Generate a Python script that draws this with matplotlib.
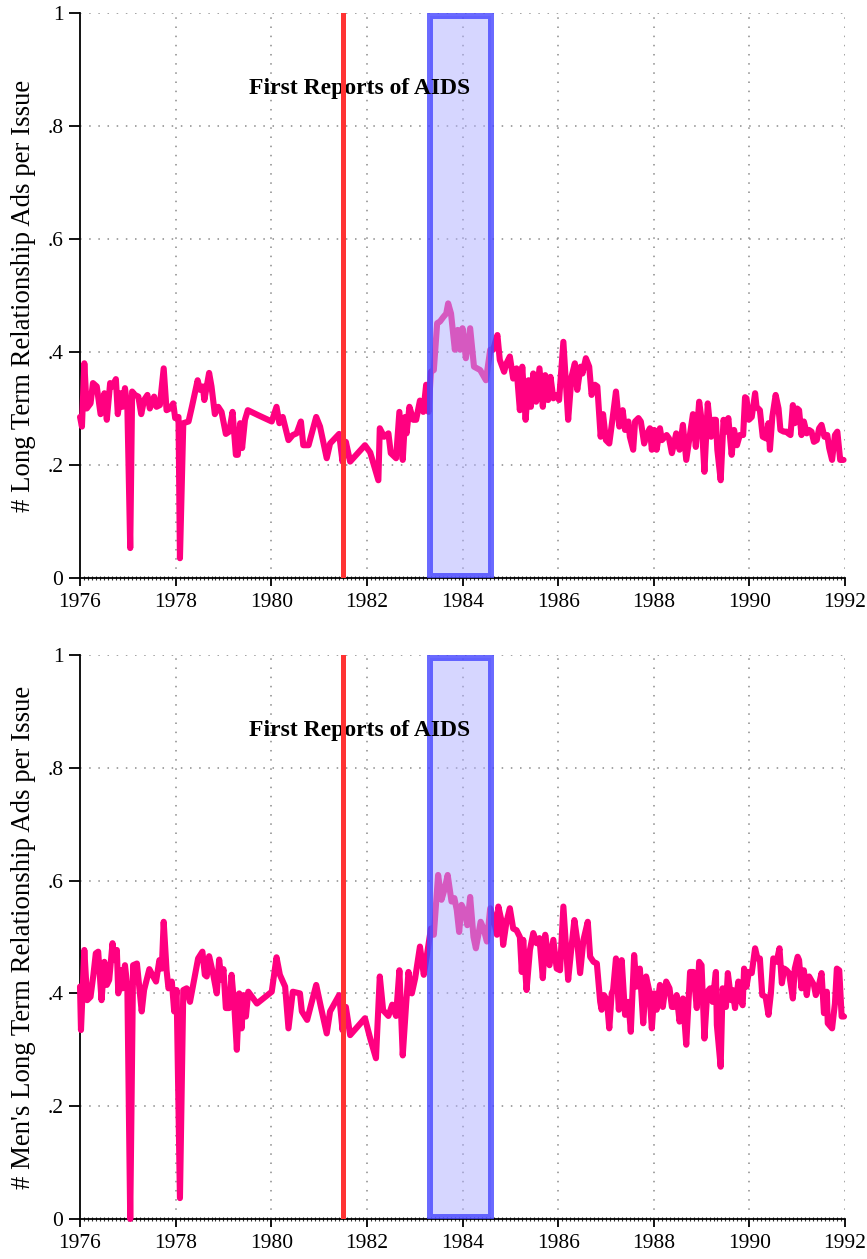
import matplotlib
matplotlib.use("Agg")
import matplotlib.pyplot as plt
from matplotlib.patches import Rectangle
from matplotlib.ticker import MultipleLocator, FixedLocator

# ---- data: ads per issue, by issue date (decimal year) ----
dates_all = [
    1976.00, 1976.04, 1976.09, 1976.14, 1976.22, 1976.27, 1976.35, 1976.43, 1976.51, 1976.56,
    1976.63, 1976.68, 1976.75, 1976.79, 1976.85, 1976.89, 1976.94, 1976.99, 1977.05, 1977.09,
    1977.15, 1977.22, 1977.28, 1977.34, 1977.41, 1977.46, 1977.55, 1977.60, 1977.67, 1977.75,
    1977.81, 1977.88, 1977.95, 1977.99, 1978.06, 1978.09, 1978.16, 1978.27, 1978.34, 1978.46,
    1978.51, 1978.57, 1978.60, 1978.70, 1978.75, 1978.82, 1978.89, 1978.96, 1979.05, 1979.12,
    1979.19, 1979.26, 1979.30, 1979.35, 1979.39, 1979.45, 1979.51, 1979.73, 1980.01, 1980.11,
    1980.17, 1980.24, 1980.36, 1980.45, 1980.53, 1980.62, 1980.67, 1980.78, 1980.94, 1981.02,
    1981.16, 1981.23, 1981.42, 1981.49, 1981.56, 1981.65, 1981.96, 1982.07, 1982.24, 1982.27,
    1982.36, 1982.45, 1982.50, 1982.61, 1982.68, 1982.75, 1982.80, 1982.83, 1982.89, 1982.97,
    1983.03, 1983.11, 1983.18, 1983.24, 1983.29, 1983.34, 1983.40, 1983.47, 1983.53, 1983.60,
    1983.66, 1983.70, 1983.76, 1983.84, 1983.90, 1983.95, 1984.00, 1984.07, 1984.16, 1984.24,
    1984.37, 1984.49, 1984.58, 1984.64, 1984.73, 1984.78, 1984.87, 1984.92, 1984.99, 1985.06,
    1985.13, 1985.20, 1985.25, 1985.32, 1985.38, 1985.43, 1985.48, 1985.54, 1985.61, 1985.68,
    1985.73, 1985.79, 1985.84, 1985.90, 1985.97, 1986.02, 1986.11, 1986.21, 1986.28, 1986.35,
    1986.40, 1986.47, 1986.51, 1986.58, 1986.65, 1986.70, 1986.77, 1986.82, 1986.89, 1986.94,
    1987.00, 1987.07, 1987.14, 1987.21, 1987.28, 1987.35, 1987.40, 1987.47, 1987.50, 1987.57,
    1987.61, 1987.68, 1987.73, 1987.80, 1987.85, 1987.92, 1987.96, 1988.01, 1988.06, 1988.13,
    1988.17, 1988.27, 1988.32, 1988.38, 1988.47, 1988.54, 1988.61, 1988.68, 1988.76, 1988.82,
    1988.88, 1988.95, 1989.00, 1989.06, 1989.13, 1989.20, 1989.25, 1989.30, 1989.33, 1989.40,
    1989.46, 1989.51, 1989.56, 1989.63, 1989.68, 1989.74, 1989.80, 1989.87, 1989.91, 1989.94,
    1989.99, 1990.05, 1990.12, 1990.15, 1990.22, 1990.28, 1990.35, 1990.40, 1990.43, 1990.48,
    1990.55, 1990.61, 1990.65, 1990.72, 1990.78, 1990.81, 1990.86, 1990.91, 1990.95, 1991.00,
    1991.04, 1991.09, 1991.14, 1991.20, 1991.25, 1991.30, 1991.35, 1991.41, 1991.46, 1991.51,
    1991.57, 1991.63, 1991.67, 1991.73, 1991.79, 1991.84, 1991.90, 1991.97,
]
ltr_all = [
    0.285, 0.268, 0.380, 0.300, 0.309, 0.345, 0.339, 0.290, 0.327, 0.280,
    0.345, 0.339, 0.352, 0.290, 0.327, 0.303, 0.336, 0.303, 0.053, 0.330,
    0.324, 0.321, 0.290, 0.315, 0.324, 0.300, 0.321, 0.303, 0.306, 0.371,
    0.297, 0.300, 0.309, 0.283, 0.285, 0.035, 0.274, 0.277, 0.303, 0.350,
    0.333, 0.339, 0.315, 0.363, 0.339, 0.290, 0.303, 0.294, 0.255, 0.259,
    0.294, 0.218, 0.218, 0.274, 0.230, 0.280, 0.297, 0.288, 0.277, 0.303,
    0.274, 0.285, 0.244, 0.253, 0.256, 0.277, 0.235, 0.235, 0.285, 0.268,
    0.212, 0.238, 0.255, 0.206, 0.241, 0.206, 0.235, 0.222, 0.173, 0.265,
    0.250, 0.256, 0.221, 0.212, 0.294, 0.209, 0.285, 0.256, 0.303, 0.280,
    0.280, 0.314, 0.294, 0.342, 0.294, 0.365, 0.368, 0.451, 0.454, 0.462,
    0.468, 0.486, 0.468, 0.404, 0.439, 0.404, 0.442, 0.389, 0.442, 0.374,
    0.368, 0.350, 0.404, 0.404, 0.430, 0.386, 0.365, 0.380, 0.392, 0.353,
    0.371, 0.297, 0.374, 0.280, 0.350, 0.303, 0.362, 0.312, 0.371, 0.303,
    0.359, 0.315, 0.356, 0.318, 0.324, 0.315, 0.418, 0.280, 0.356, 0.380,
    0.333, 0.374, 0.362, 0.389, 0.374, 0.324, 0.342, 0.339, 0.250, 0.290,
    0.244, 0.238, 0.283, 0.330, 0.268, 0.297, 0.262, 0.277, 0.250, 0.227,
    0.277, 0.283, 0.277, 0.238, 0.253, 0.265, 0.227, 0.262, 0.227, 0.265,
    0.244, 0.253, 0.247, 0.221, 0.256, 0.227, 0.271, 0.209, 0.256, 0.290,
    0.232, 0.312, 0.280, 0.188, 0.309, 0.250, 0.280, 0.280, 0.227, 0.173,
    0.280, 0.259, 0.283, 0.218, 0.262, 0.235, 0.253, 0.253, 0.320, 0.318,
    0.280, 0.285, 0.327, 0.303, 0.297, 0.250, 0.247, 0.274, 0.227, 0.285,
    0.324, 0.300, 0.262, 0.259, 0.259, 0.256, 0.253, 0.306, 0.274, 0.300,
    0.297, 0.253, 0.277, 0.256, 0.262, 0.259, 0.241, 0.244, 0.265, 0.271,
    0.250, 0.253, 0.230, 0.209, 0.253, 0.259, 0.209, 0.209,
]

dates_men = [
    1976.00, 1976.02, 1976.09, 1976.15, 1976.22, 1976.28, 1976.33, 1976.38, 1976.45, 1976.51,
    1976.56, 1976.61, 1976.68, 1976.72, 1976.77, 1976.80, 1976.86, 1976.89, 1976.94, 1976.99,
    1977.05, 1977.11, 1977.19, 1977.29, 1977.34, 1977.45, 1977.53, 1977.59, 1977.66, 1977.71,
    1977.75, 1977.81, 1977.85, 1977.92, 1977.97, 1978.02, 1978.09, 1978.16, 1978.23, 1978.30,
    1978.47, 1978.56, 1978.61, 1978.65, 1978.70, 1978.78, 1978.86, 1978.91, 1978.96, 1979.00,
    1979.05, 1979.12, 1979.17, 1979.23, 1979.28, 1979.33, 1979.38, 1979.42, 1979.47, 1979.52,
    1979.70, 1980.01, 1980.11, 1980.18, 1980.29, 1980.36, 1980.45, 1980.60, 1980.64, 1980.75,
    1980.94, 1981.03, 1981.16, 1981.23, 1981.42, 1981.49, 1981.56, 1981.65, 1981.96, 1982.07,
    1982.19, 1982.27, 1982.34, 1982.45, 1982.53, 1982.61, 1982.68, 1982.75, 1982.82, 1982.87,
    1982.94, 1983.01, 1983.11, 1983.19, 1983.25, 1983.34, 1983.40, 1983.49, 1983.56, 1983.62,
    1983.69, 1983.77, 1983.83, 1983.88, 1983.93, 1983.98, 1984.05, 1984.10, 1984.16, 1984.23,
    1984.28, 1984.38, 1984.44, 1984.51, 1984.58, 1984.64, 1984.72, 1984.75, 1984.82, 1984.85,
    1984.92, 1984.99, 1985.06, 1985.13, 1985.20, 1985.24, 1985.27, 1985.34, 1985.41, 1985.48,
    1985.55, 1985.61, 1985.68, 1985.73, 1985.82, 1985.90, 1985.97, 1986.04, 1986.11, 1986.21,
    1986.28, 1986.34, 1986.39, 1986.46, 1986.53, 1986.62, 1986.67, 1986.74, 1986.81, 1986.88,
    1986.91, 1986.96, 1987.02, 1987.07, 1987.12, 1987.15, 1987.21, 1987.27, 1987.33, 1987.40,
    1987.47, 1987.52, 1987.59, 1987.64, 1987.71, 1987.78, 1987.84, 1987.91, 1987.96, 1988.01,
    1988.06, 1988.13, 1988.19, 1988.26, 1988.33, 1988.38, 1988.42, 1988.48, 1988.54, 1988.61,
    1988.68, 1988.76, 1988.83, 1988.90, 1988.95, 1989.00, 1989.06, 1989.12, 1989.18, 1989.23,
    1989.30, 1989.32, 1989.40, 1989.44, 1989.51, 1989.55, 1989.62, 1989.65, 1989.70, 1989.77,
    1989.80, 1989.86, 1989.89, 1989.94, 1989.99, 1990.05, 1990.12, 1990.17, 1990.22, 1990.27,
    1990.34, 1990.40, 1990.45, 1990.50, 1990.57, 1990.63, 1990.68, 1990.73, 1990.78, 1990.83,
    1990.91, 1990.95, 1991.01, 1991.04, 1991.09, 1991.14, 1991.20, 1991.25, 1991.29, 1991.35,
    1991.39, 1991.44, 1991.51, 1991.56, 1991.62, 1991.64, 1991.73, 1991.79, 1991.83, 1991.88,
    1991.93, 1991.98,
]
ltr_men = [
    0.412, 0.335, 0.477, 0.388, 0.394, 0.433, 0.471, 0.474, 0.388, 0.456,
    0.415, 0.424, 0.489, 0.459, 0.477, 0.400, 0.441, 0.409, 0.450, 0.412,
    0.000, 0.450, 0.453, 0.368, 0.406, 0.443, 0.430, 0.421, 0.459, 0.444,
    0.527, 0.441, 0.409, 0.421, 0.368, 0.406, 0.037, 0.406, 0.409, 0.385,
    0.462, 0.474, 0.433, 0.430, 0.466, 0.436, 0.400, 0.460, 0.424, 0.443,
    0.374, 0.374, 0.433, 0.374, 0.300, 0.400, 0.338, 0.397, 0.359, 0.403,
    0.382, 0.403, 0.464, 0.433, 0.412, 0.338, 0.403, 0.400, 0.368, 0.353,
    0.415, 0.379, 0.329, 0.368, 0.397, 0.335, 0.376, 0.326, 0.356, 0.320,
    0.285, 0.430, 0.370, 0.360, 0.380, 0.360, 0.441, 0.290, 0.380, 0.438,
    0.400, 0.427, 0.483, 0.433, 0.465, 0.515, 0.504, 0.610, 0.566, 0.583,
    0.610, 0.563, 0.569, 0.548, 0.509, 0.557, 0.545, 0.521, 0.571, 0.500,
    0.480, 0.527, 0.515, 0.492, 0.551, 0.536, 0.504, 0.554, 0.527, 0.486,
    0.527, 0.551, 0.515, 0.512, 0.500, 0.438, 0.495, 0.406, 0.477, 0.507,
    0.489, 0.498, 0.427, 0.504, 0.450, 0.495, 0.444, 0.441, 0.554, 0.424,
    0.483, 0.530, 0.500, 0.436, 0.495, 0.527, 0.465, 0.456, 0.453, 0.385,
    0.371, 0.397, 0.388, 0.338, 0.400, 0.406, 0.462, 0.371, 0.459, 0.362,
    0.385, 0.332, 0.468, 0.412, 0.444, 0.347, 0.430, 0.403, 0.338, 0.400,
    0.371, 0.415, 0.376, 0.421, 0.409, 0.376, 0.376, 0.397, 0.350, 0.391,
    0.309, 0.438, 0.438, 0.374, 0.456, 0.450, 0.320, 0.403, 0.409, 0.385,
    0.438, 0.344, 0.270, 0.409, 0.376, 0.436, 0.388, 0.406, 0.374, 0.421,
    0.391, 0.379, 0.444, 0.412, 0.438, 0.436, 0.480, 0.462, 0.462, 0.397,
    0.394, 0.362, 0.400, 0.462, 0.456, 0.480, 0.418, 0.444, 0.441, 0.436,
    0.391, 0.444, 0.465, 0.459, 0.409, 0.441, 0.397, 0.430, 0.424, 0.415,
    0.397, 0.409, 0.436, 0.365, 0.403, 0.347, 0.338, 0.382, 0.444, 0.441,
    0.359, 0.359,
]

first_aids_report = 1981.5
window_start, window_end = 1983.33, 1984.6
x_ticks = [1976, 1978, 1980, 1982, 1984, 1986, 1988, 1990, 1992]
y_ticks = [0, 0.2, 0.4, 0.6, 0.8, 1.0]
y_tick_labels = ["0", ".2", ".4", ".6", ".8", "1"]
annotation = "First Reports of AIDS"
y_titles = ["# Long Term Relationship Ads per Issue",
            "# Men's Long Term Relationship Ads per Issue"]

SERIF = ["Liberation Serif", "DejaVu Serif"]
LINE_COLOR = "#FF0080"
RED = "#FF3333"

fig = plt.figure(figsize=(8.67, 12.59), dpi=100)
axes = [fig.add_axes([0.0923, 0.5409, 0.8823, 0.4488]),
        fig.add_axes([0.0923, 0.0318, 0.8823, 0.4479])]

panels = [(dates_all, ltr_all), (dates_men, ltr_men)]

for ax, (xs, ys), title in zip(axes, panels, y_titles):
    ax.set_xlim(1976, 1992)
    ax.set_ylim(0, 1)

    ax.plot(xs, ys, color=LINE_COLOR, lw=4.4, solid_joinstyle="round",
            solid_capstyle="round", zorder=3, clip_on=False)

    # shaded window with a translucent fill and outline
    ax.add_patch(Rectangle((window_start, 0.004), window_end - window_start, 0.99,
                           facecolor="#AFAFFF", edgecolor="none", alpha=0.51, zorder=6))
    ax.add_patch(Rectangle((window_start, 0.004), window_end - window_start, 0.99,
                           facecolor="none", edgecolor=(0.28, 0.28, 1.0), lw=4.3,
                           alpha=0.81, zorder=7))

    ax.text(1981.84, 0.866, annotation, family=SERIF, fontweight="bold",
            fontsize=17, ha="center", va="center", zorder=8)

    ax.axvline(first_aids_report, ymin=0, ymax=1, color=RED, lw=3.6, zorder=9)

    # dotted grid
    for xv in x_ticks[1:]:
        ax.axvline(xv, color="#8a8a8a", lw=1.1, ls=(0, (1, 5)), zorder=1)
    for yv in y_ticks[1:]:
        ax.axhline(yv, color="#8a8a8a", lw=1.1, ls=(0, (1, 5)), zorder=1)

    for s in ("top", "right"):
        ax.spines[s].set_visible(False)
    for s in ("left", "bottom"):
        ax.spines[s].set_linewidth(1.3)
        ax.spines[s].set_color("black")

    ax.xaxis.set_major_locator(FixedLocator(x_ticks))
    ax.xaxis.set_minor_locator(MultipleLocator(1 / 12))
    ax.yaxis.set_major_locator(FixedLocator(y_ticks))
    ax.set_yticklabels(y_tick_labels)
    ax.tick_params(axis="both", which="major", direction="out", length=6,
                   width=1.3, color="black", labelsize=15.5)
    ax.tick_params(axis="x", which="major", pad=5)
    ax.tick_params(axis="y", which="major", pad=4, length=8)
    ax.tick_params(axis="x", which="minor", direction="inout", length=3,
                   width=0.8, color="#333333")
    for lab in ax.get_xticklabels() + ax.get_yticklabels():
        lab.set_family(SERIF)

    ax.set_ylabel(title, family=SERIF, fontsize=19.3)
    ax.yaxis.set_label_coords(-0.057, 0.5)

fig.savefig("out.png", dpi=100)
